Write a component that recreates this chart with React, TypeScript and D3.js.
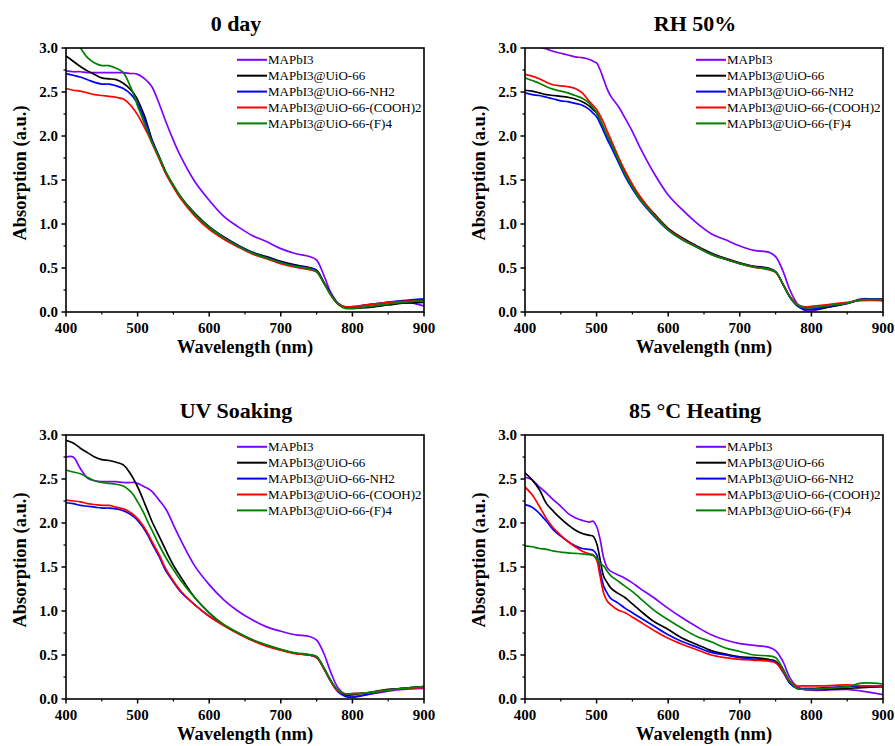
import React from "react";
import * as d3 from "d3";

const WL = [400, 410, 420, 430, 440, 450, 460, 470, 480, 490, 495, 500, 505, 510, 515, 520, 530, 540, 550, 560, 580, 600, 620, 640, 660, 680, 700, 720, 740, 750, 760, 770, 780, 790, 800, 820, 850, 870, 900];

const SERIES_NAMES = ["MAPbI3", "MAPbI3@UiO-66", "MAPbI3@UiO-66-NH2", "MAPbI3@UiO-66-(COOH)2", "MAPbI3@UiO-66-(F)4"];
const SERIES_COLORS = ["#8000FF", "#000000", "#0000FF", "#FF0000", "#008000"];
const PANEL_TITLES = ["0 day", "RH 50%", "UV Soaking", "85 °C Heating"];
const X_TICKS = [400, 500, 600, 700, 800, 900];
const Y_TICKS = [0, 0.5, 1.0, 1.5, 2.0, 2.5, 3.0];

// 0 day
const DAY0_MAPBI3 = [2.74, 2.73, 2.73, 2.72, 2.72, 2.72, 2.72, 2.72, 2.72, 2.71, 2.71, 2.70, 2.68, 2.65, 2.61, 2.56, 2.37, 2.15, 1.95, 1.77, 1.48, 1.27, 1.09, 0.97, 0.87, 0.80, 0.72, 0.665, 0.63, 0.59, 0.42, 0.22, 0.10, 0.06, 0.06, 0.08, 0.11, 0.12, 0.07];
const DAY0_UIO = [2.91, 2.85, 2.79, 2.74, 2.70, 2.66, 2.65, 2.64, 2.60, 2.53, 2.48, 2.41, 2.32, 2.22, 2.09, 1.96, 1.77, 1.58, 1.44, 1.31, 1.12, 0.97, 0.855, 0.76, 0.68, 0.63, 0.575, 0.535, 0.505, 0.475, 0.34, 0.20, 0.09, 0.05, 0.04, 0.05, 0.08, 0.10, 0.11];
const DAY0_NH2 = [2.71, 2.69, 2.67, 2.64, 2.61, 2.59, 2.59, 2.57, 2.54, 2.48, 2.43, 2.37, 2.28, 2.18, 2.07, 1.95, 1.76, 1.57, 1.43, 1.30, 1.11, 0.96, 0.85, 0.755, 0.675, 0.62, 0.565, 0.525, 0.50, 0.47, 0.34, 0.20, 0.09, 0.05, 0.05, 0.08, 0.11, 0.13, 0.15];
const DAY0_COOH = [2.54, 2.52, 2.51, 2.49, 2.47, 2.46, 2.45, 2.44, 2.42, 2.35, 2.30, 2.24, 2.17, 2.09, 2.01, 1.92, 1.74, 1.56, 1.42, 1.29, 1.09, 0.94, 0.83, 0.74, 0.66, 0.605, 0.55, 0.51, 0.48, 0.455, 0.33, 0.19, 0.09, 0.06, 0.06, 0.08, 0.11, 0.12, 0.13];
const DAY0_F4 = [3.18, 3.08, 3.00, 2.89, 2.83, 2.80, 2.80, 2.77, 2.72, 2.56, 2.46, 2.34, 2.24, 2.13, 2.03, 1.93, 1.76, 1.58, 1.44, 1.31, 1.11, 0.96, 0.845, 0.75, 0.67, 0.615, 0.56, 0.52, 0.49, 0.46, 0.33, 0.19, 0.09, 0.04, 0.04, 0.06, 0.09, 0.11, 0.13];

// RH 50%
const RH_MAPBI3 = [3.05, 3.03, 3.01, 2.99, 2.96, 2.94, 2.92, 2.90, 2.89, 2.87, 2.85, 2.83, 2.75, 2.64, 2.53, 2.45, 2.34, 2.20, 2.05, 1.88, 1.58, 1.33, 1.16, 1.01, 0.89, 0.82, 0.75, 0.70, 0.68, 0.63, 0.47, 0.25, 0.095, 0.02, 0.01, 0.05, 0.095, 0.15, 0.13];
const RH_UIO = [2.52, 2.51, 2.49, 2.47, 2.46, 2.45, 2.44, 2.42, 2.39, 2.34, 2.30, 2.26, 2.18, 2.09, 2.00, 1.92, 1.75, 1.58, 1.44, 1.31, 1.12, 0.95, 0.84, 0.75, 0.67, 0.61, 0.56, 0.52, 0.50, 0.46, 0.32, 0.17, 0.076, 0.04, 0.03, 0.05, 0.10, 0.14, 0.14];
const RH_NH2 = [2.49, 2.47, 2.46, 2.44, 2.42, 2.40, 2.39, 2.37, 2.35, 2.30, 2.26, 2.22, 2.14, 2.05, 1.96, 1.88, 1.71, 1.54, 1.40, 1.28, 1.09, 0.93, 0.82, 0.74, 0.66, 0.60, 0.55, 0.515, 0.49, 0.455, 0.32, 0.17, 0.07, 0.03, 0.03, 0.06, 0.10, 0.14, 0.15];
const RH_COOH = [2.70, 2.68, 2.65, 2.61, 2.58, 2.57, 2.56, 2.54, 2.49, 2.39, 2.35, 2.30, 2.23, 2.15, 2.05, 1.96, 1.77, 1.60, 1.45, 1.32, 1.11, 0.94, 0.83, 0.74, 0.655, 0.60, 0.55, 0.51, 0.48, 0.45, 0.32, 0.18, 0.09, 0.06, 0.065, 0.08, 0.11, 0.13, 0.13];
const RH_F4 = [2.66, 2.63, 2.60, 2.56, 2.53, 2.51, 2.49, 2.46, 2.43, 2.37, 2.32, 2.27, 2.18, 2.09, 2.00, 1.92, 1.74, 1.56, 1.42, 1.29, 1.10, 0.93, 0.82, 0.735, 0.655, 0.60, 0.55, 0.51, 0.49, 0.455, 0.32, 0.17, 0.08, 0.05, 0.05, 0.07, 0.10, 0.14, 0.14];

// UV Soaking
const UV_MAPBI3 = [2.75, 2.75, 2.62, 2.51, 2.48, 2.47, 2.47, 2.47, 2.46, 2.46, 2.46, 2.45, 2.43, 2.41, 2.39, 2.36, 2.26, 2.15, 1.98, 1.81, 1.51, 1.30, 1.13, 1.00, 0.90, 0.82, 0.77, 0.73, 0.71, 0.67, 0.52, 0.30, 0.125, 0.05, 0.03, 0.05, 0.09, 0.11, 0.12];
const UV_UIO = [2.94, 2.91, 2.85, 2.80, 2.75, 2.72, 2.71, 2.69, 2.66, 2.56, 2.49, 2.41, 2.32, 2.22, 2.12, 2.02, 1.85, 1.68, 1.52, 1.39, 1.15, 0.98, 0.84, 0.75, 0.67, 0.61, 0.56, 0.52, 0.50, 0.48, 0.35, 0.20, 0.09, 0.05, 0.05, 0.07, 0.11, 0.12, 0.14];
const UV_NH2 = [2.23, 2.22, 2.20, 2.19, 2.18, 2.17, 2.17, 2.16, 2.14, 2.10, 2.07, 2.03, 1.98, 1.92, 1.85, 1.77, 1.62, 1.45, 1.33, 1.22, 1.07, 0.94, 0.84, 0.75, 0.67, 0.61, 0.56, 0.52, 0.50, 0.47, 0.35, 0.20, 0.08, 0.03, 0.02, 0.05, 0.10, 0.12, 0.14];
const UV_COOH = [2.26, 2.25, 2.24, 2.22, 2.21, 2.20, 2.20, 2.18, 2.16, 2.12, 2.09, 2.05, 2.00, 1.94, 1.87, 1.79, 1.64, 1.47, 1.34, 1.23, 1.07, 0.94, 0.835, 0.745, 0.665, 0.60, 0.555, 0.515, 0.50, 0.47, 0.35, 0.20, 0.09, 0.06, 0.06, 0.07, 0.10, 0.12, 0.13];
const UV_F4 = [2.60, 2.58, 2.56, 2.52, 2.48, 2.46, 2.45, 2.44, 2.42, 2.36, 2.31, 2.24, 2.17, 2.09, 2.00, 1.92, 1.75, 1.60, 1.47, 1.35, 1.15, 0.98, 0.85, 0.755, 0.675, 0.615, 0.565, 0.525, 0.505, 0.48, 0.36, 0.21, 0.10, 0.06, 0.06, 0.07, 0.10, 0.12, 0.14];

// 85 °C Heating
const HEAT_MAPBI3 = [2.52, 2.49, 2.41, 2.34, 2.26, 2.19, 2.11, 2.06, 2.03, 2.01, 2.02, 1.96, 1.81, 1.60, 1.49, 1.45, 1.41, 1.37, 1.32, 1.26, 1.15, 1.03, 0.92, 0.82, 0.73, 0.67, 0.63, 0.61, 0.59, 0.55, 0.43, 0.24, 0.14, 0.11, 0.10, 0.10, 0.11, 0.09, 0.05];
const HEAT_UIO = [2.57, 2.49, 2.38, 2.22, 2.13, 2.05, 1.98, 1.92, 1.88, 1.86, 1.85, 1.77, 1.58, 1.39, 1.32, 1.26, 1.20, 1.15, 1.08, 1.01, 0.88, 0.79, 0.69, 0.62, 0.55, 0.51, 0.48, 0.47, 0.45, 0.43, 0.33, 0.18, 0.12, 0.11, 0.11, 0.11, 0.12, 0.13, 0.14];
const HEAT_NH2 = [2.21, 2.18, 2.11, 2.02, 1.92, 1.85, 1.79, 1.74, 1.71, 1.70, 1.69, 1.64, 1.45, 1.28, 1.20, 1.14, 1.09, 1.03, 0.98, 0.93, 0.83, 0.73, 0.65, 0.59, 0.53, 0.50, 0.47, 0.45, 0.44, 0.42, 0.31, 0.18, 0.12, 0.12, 0.12, 0.13, 0.14, 0.15, 0.14];
const HEAT_COOH = [2.41, 2.32, 2.19, 2.05, 1.94, 1.86, 1.79, 1.73, 1.68, 1.65, 1.64, 1.58, 1.39, 1.20, 1.11, 1.07, 1.01, 0.98, 0.93, 0.88, 0.78, 0.69, 0.62, 0.56, 0.50, 0.47, 0.45, 0.44, 0.43, 0.41, 0.32, 0.20, 0.15, 0.15, 0.15, 0.15, 0.16, 0.15, 0.15];
const HEAT_F4 = [1.74, 1.73, 1.71, 1.70, 1.68, 1.67, 1.66, 1.655, 1.65, 1.64, 1.63, 1.60, 1.54, 1.51, 1.45, 1.40, 1.34, 1.28, 1.22, 1.15, 1.01, 0.90, 0.80, 0.71, 0.65, 0.58, 0.54, 0.50, 0.49, 0.47, 0.35, 0.20, 0.12, 0.11, 0.11, 0.12, 0.14, 0.18, 0.17];

const PANEL_DATA = [
  [DAY0_MAPBI3, DAY0_UIO, DAY0_NH2, DAY0_COOH, DAY0_F4],
  [RH_MAPBI3, RH_UIO, RH_NH2, RH_COOH, RH_F4],
  [UV_MAPBI3, UV_UIO, UV_NH2, UV_COOH, UV_F4],
  [HEAT_MAPBI3, HEAT_UIO, HEAT_NH2, HEAT_COOH, HEAT_F4],
];

const W = 895;
const H = 746;
const PW = 358;
const PH = 264;
const ORIGINS = [
  [66, 48],
  [525, 48],
  [66, 435],
  [525, 435],
];
const FONT = "'Liberation Serif', 'Times New Roman', serif";

function Panel({ idx }: { idx: number }) {
  const [left, top] = ORIGINS[idx];
  const x = d3.scaleLinear().domain([400, 900]).range([left, left + PW]);
  const y = d3.scaleLinear().domain([0, 3]).range([top + PH, top]);
  const line = d3
    .line<number>()
    .x((_, i) => x(WL[i]))
    .y((v) => y(v))
    .curve(d3.curveCatmullRom.alpha(0.5));
  const fmt = d3.format(".1f");
  const xMinor = X_TICKS.slice(0, -1).map((t) => t + 50);
  const yMinor = Y_TICKS.slice(0, -1).map((t) => t + 0.25);
  const clipId = `clip-${idx}`;
  const series = PANEL_DATA[idx];
  const cx = left + PW / 2;
  const cy = top + PH / 2;
  return (
    <g>
      <defs>
        <clipPath id={clipId}>
          <rect x={left} y={top} width={PW} height={PH} />
        </clipPath>
      </defs>
      <text x={cx - 9} y={top - 17} textAnchor="middle" fontFamily={FONT} fontWeight="bold" fontSize={22}>
        {PANEL_TITLES[idx]}
      </text>
      <g clipPath={`url(#${clipId})`}>
        {series.map((vals, si) => (
          <path key={si} d={line(vals) || ""} fill="none" stroke={SERIES_COLORS[si]} strokeWidth={1.7} strokeLinejoin="round" />
        ))}
      </g>
      <rect x={left} y={top} width={PW} height={PH} fill="none" stroke="#000" strokeWidth={1.6} />
      {X_TICKS.map((t) => (
        <g key={"x" + t}>
          <line x1={x(t)} x2={x(t)} y1={top + PH} y2={top + PH + 4.5} stroke="#000" strokeWidth={1.5} />
          <text x={x(t)} y={top + PH + 21} textAnchor="middle" fontFamily={FONT} fontWeight="bold" fontSize={15}>
            {t}
          </text>
        </g>
      ))}
      {xMinor.map((t) => (
        <line key={"xm" + t} x1={x(t)} x2={x(t)} y1={top + PH} y2={top + PH + 2.5} stroke="#000" strokeWidth={1.2} />
      ))}
      {Y_TICKS.map((t) => (
        <g key={"y" + t}>
          <line x1={left - 4.5} x2={left} y1={y(t)} y2={y(t)} stroke="#000" strokeWidth={1.5} />
          <text x={left - 8} y={y(t) + 5} textAnchor="end" fontFamily={FONT} fontWeight="bold" fontSize={15}>
            {fmt(t)}
          </text>
        </g>
      ))}
      {yMinor.map((t) => (
        <line key={"ym" + t} x1={left - 2.5} x2={left} y1={y(t)} y2={y(t)} stroke="#000" strokeWidth={1.2} />
      ))}
      <text x={cx} y={top + PH + 41} textAnchor="middle" fontFamily={FONT} fontWeight="bold" fontSize={18.5}>
        Wavelength (nm)
      </text>
      <text
        transform={`translate(${left - 40},${cy - 7}) rotate(-90)`}
        textAnchor="middle"
        fontFamily={FONT}
        fontWeight="bold"
        fontSize={18.5}
      >
        Absorption (a.u.)
      </text>
      {SERIES_NAMES.map((name, si) => {
        const ly = top + 11.8 + si * 15.9;
        const lx = left + PW - 187;
        return (
          <g key={name}>
            <line x1={lx} x2={lx + 30} y1={ly} y2={ly} stroke={SERIES_COLORS[si]} strokeWidth={2} />
            <text x={lx + 31} y={ly + 4.5} fontFamily={FONT} fontSize={13}>
              {name}
            </text>
          </g>
        );
      })}
    </g>
  );
}

export default function App() {
  return (
    <svg
      width={W}
      height={H}
      viewBox={`0 0 ${W} ${H}`}
      style={{ position: "absolute", left: 0, top: 0, background: "#fff" }}
    >
      <rect x={0} y={0} width={W} height={H} fill="#fff" />
      {[0, 1, 2, 3].map((i) => (
        <Panel key={i} idx={i} />
      ))}
    </svg>
  );
}
